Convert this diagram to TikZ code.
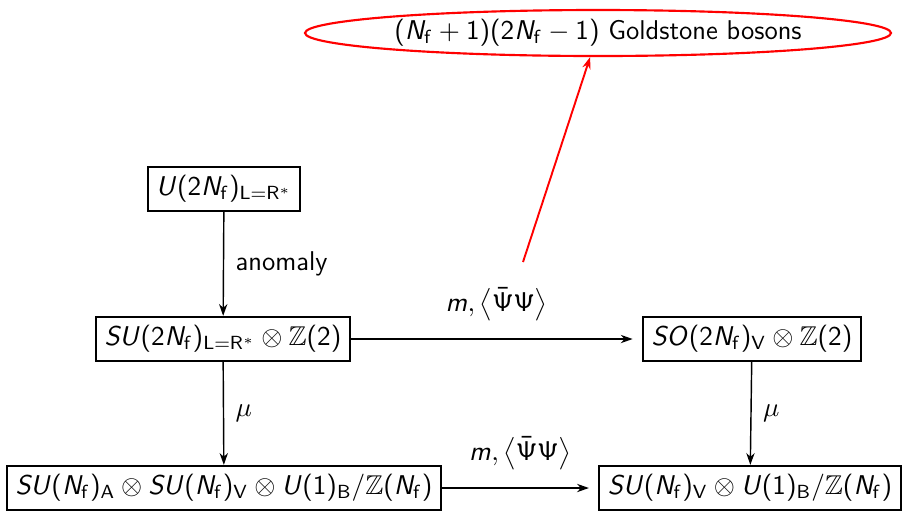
\RequirePackage{fix-cm}
\documentclass[tikz,border=0pt]{standalone}
\usepackage{amssymb}
\usetikzlibrary{shapes.geometric,arrows.meta}
\renewcommand{\familydefault}{\sfdefault}
\DeclareSymbolFont{sfletters}{OT1}{cmss}{m}{sl}
\SetSymbolFont{operators}{normal}{OT1}{cmss}{m}{n}
\SetMathAlphabet{\mathrm}{normal}{OT1}{cmss}{m}{n}
\DeclareMathSymbol{N}{\mathalpha}{sfletters}{`N}
\DeclareMathSymbol{U}{\mathalpha}{sfletters}{`U}
\DeclareMathSymbol{S}{\mathalpha}{sfletters}{`S}
\DeclareMathSymbol{O}{\mathalpha}{sfletters}{`O}
\DeclareMathSymbol{m}{\mathalpha}{sfletters}{`m}
\newcommand{\Nf}{N_\mathrm{f}}
\newcommand{\myfs}{\fontsize{11.4}{14}\selectfont}
\begin{document}
\begin{tikzpicture}[x=0.42pt,y=-0.42pt,
  grp/.style={draw,line width=0.8pt,inner xsep=3.6pt,inner ysep=3.6pt,font=\myfs},
  arr/.style={-{Stealth[length=5pt,width=3.5pt]},line width=0.6pt},
  redarr/.style={-{Stealth[length=5pt,width=3.5pt]},line width=0.8pt,red},
  lbl/.style={font=\myfs}]
\useasboundingbox (0,0) rectangle (902,511);
\node[draw=red,line width=0.9pt,ellipse,minimum width=586*0.42pt,minimum height=46*0.42pt,inner sep=0pt,font=\myfs] (gb) at (598,33) {$(\Nf+1)(2\Nf-1)$ Goldstone bosons};
\node[grp] (A) at (224,189) {$U(2\Nf)_{\mathrm{L}=\mathrm{R}^*}$};
\node[grp] (B) at (223,339) {$SU(2\Nf)_{\mathrm{L}=\mathrm{R}^*}\otimes\mathbb{Z}(2)$};
\node[grp] (C) at (752,339) {$SO(2\Nf)_\mathrm{V}\otimes\mathbb{Z}(2)$};
\node[grp] (D) at (224,488) {$SU(\Nf)_\mathrm{A}\otimes SU(\Nf)_\mathrm{V}\otimes U(1)_\mathrm{B}/\mathbb{Z}(\Nf)$};
\node[grp] (E) at (750,488) {$SU(\Nf)_\mathrm{V}\otimes U(1)_\mathrm{B}/\mathbb{Z}(\Nf)$};
\coordinate (rs) at (523,262);
\draw[arr] (A) -- node[lbl,right=1.5pt]{anomaly} (B);
\draw[arr] (B) -- node[lbl,right=1.5pt]{$\mu$} (D);
\draw[arr] (C) -- node[lbl,right=1.5pt]{$\mu$} (E);
\draw[arr,shorten >=4pt] (B) -- node[lbl,above=4pt]{$m,\left\langle\bar{\Psi}\Psi\right\rangle$} (C);
\draw[arr,shorten >=4pt] (D) -- node[lbl,above=4pt]{$m,\left\langle\bar{\Psi}\Psi\right\rangle$} (E);
\draw[redarr] (rs) -- (gb);
\end{tikzpicture}
\end{document}
